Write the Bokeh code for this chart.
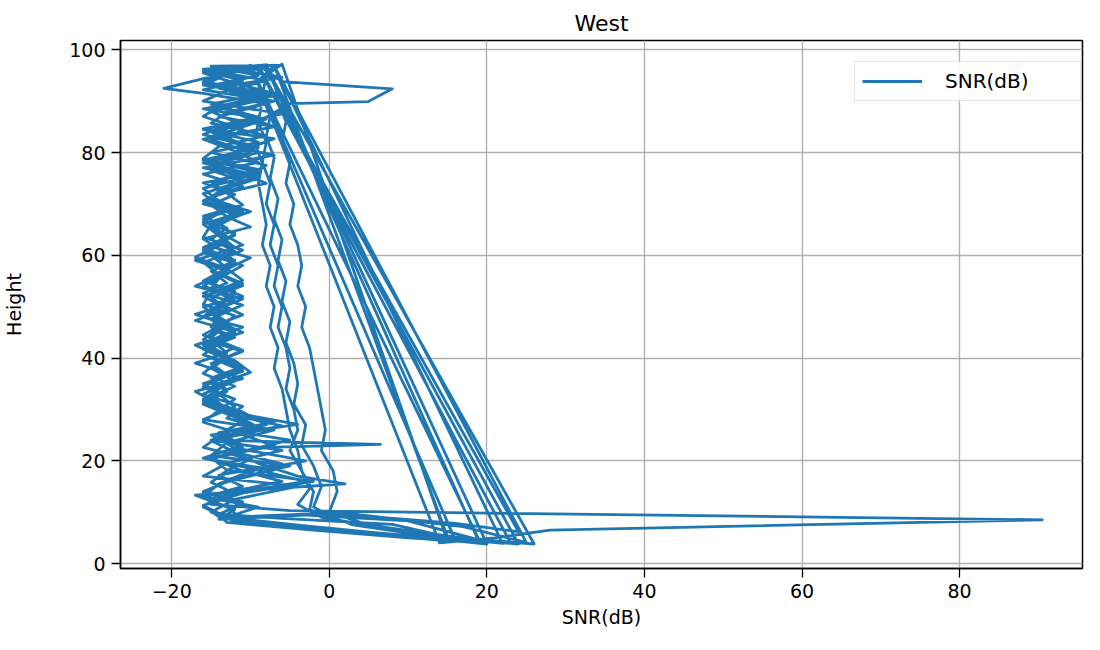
from bokeh.plotting import figure
from bokeh.models import ColumnDataSource, Range1d, FixedTicker
from bokeh.embed import file_html
from bokeh.resources import INLINE

# ---- data: SNR(dB) profiles versus height ----
h1 = [97, 96.8, 95, 93, 91, 88.5, 86.5, 84, 82, 79.5, 77, 75, 72.5, 70, 68, 65.5, 63, 61, 58.5, 56, 54, 51.5, 49, 47, 44.5, 42, 40, 37.5, 35, 33, 30.5, 28, 26, 23.5, 21, 19, 16.5, 14, 12, 9.5, 8, 6.5, 5, 4.2]
x1 = [-6, -15, -9, -15, -7, -16, -8, -13, -15, -7, -16, -9, -14, -16, -11, -15, -13, -16, -12, -14, -17, -11, -15, -13, -16, -12, -15, -11, -16, -14, -12, -16, -7, -13, -15, -5, -12, -16, -11, -14, -13, -2, 10, 19]

h2 = [96.6, 95.8, 94.4, 92.5, 91.5, 89.5, 87, 85, 82.5, 80, 78, 75.5, 73, 71, 68.5, 66, 64, 61.5, 59, 57, 54.5, 52, 50, 47.5, 45, 43, 40.5, 38, 36, 33.5, 31, 29, 26.5, 24, 22, 19.5, 17, 15, 12.5, 10, 8.5, 6.8, 5.2, 3.8]
x2 = [-8, -12, -16, -21, -16, -8, -14, -7, -15, -10, -16, -9, -13, -15, -11, -16, -14, -12, -17, -13, -15, -11, -16, -14, -12, -16, -13, -15, -11, -17, -14, -12, -9, -15, -6, -13, -16, -4, -12, -15, -12, 0, 12, 24]

h3 = [97, 93.8, 92.4, 89.9, 89.5, 86, 82, 78, 74, 70, 66, 62, 58, 54, 50, 46, 42, 38, 34, 30, 26, 22, 18, 14, 10.5, 7.5, 5.5, 3.9]
x3 = [-9, -6, 8, 4.9, -5, -9, -9.5, -8.5, -9, -8.5, -8, -8.5, -7.5, -8, -7, -7.5, -6.5, -7, -6, -5.5, -5, -4, -3.5, -2, -2.5, 3, 12, 22]

h4 = [97, 96, 94, 92, 90, 87.5, 85.5, 83, 81, 78.5, 76, 74, 71.5, 69, 67, 64.5, 62, 60, 57.5, 55, 53, 50.5, 48, 46, 43.5, 41, 39, 36.5, 34, 32, 29.5, 27, 25, 22.5, 20, 18, 15.5, 13, 11, 9, 9.8, 7.8, 6.2]
x4 = [-7, -15, -8, -13, -16, -6, -12, -15, -9, -16, -11, -8, -15, -12, -16, -14, -11, -15, -13, -16, -12, -14, -16, -11, -15, -13, -17, -12, -14, -16, -11, -8, -15, -12, -3, -10, -14, -16, -9, -13, 0, 16, 24]

h5 = [96.8, 95.5, 93.5, 91.5, 89, 87, 84.5, 82.5, 80, 77.5, 75.5, 73, 70.5, 68.5, 66, 63.5, 61.5, 59, 56.5, 54.5, 52, 49.5, 47.5, 45, 42.5, 40.5, 38, 35.5, 33.5, 31, 28.5, 26.5, 24, 23.2, 22.6, 20.5, 18, 16, 13.5, 11, 8.2, 6, 4.4]
x5 = [-10, -16, -12, -7, -14, -16, -11, -13, -9, -15, -12, -16, -14, -10, -15, -13, -16, -12, -14, -11, -16, -13, -15, -12, -17, -14, -11, -15, -13, -16, -12, -9, -14, 6.5, -8, -15, -11, -6, -14, -16, -12, 3, 15]

h6 = [97.2, 95, 91, 87, 83, 79, 75, 71, 67, 63, 59, 55, 51, 47, 43, 39, 35, 31, 27, 23, 19, 15, 11, 8.5, 6.5, 4.8, 3.8]
x6 = [-6, -8, -8.5, -7.5, -8, -7, -7.5, -6.5, -7, -6, -6.5, -5.5, -6, -5, -5.5, -4.5, -4, -4.5, -3, -3.5, -2, -1, -2, 1, 8, 18, 26]

h7 = [96.5, 95.5, 93.5, 91, 89, 86.5, 84.5, 82, 80, 77.5, 75, 73, 70.5, 68, 66, 63.5, 61, 59, 56.5, 54, 52, 49.5, 47, 45, 42.5, 40, 38, 35.5, 33, 31, 28.5, 26, 24, 21.5, 19.5, 17, 15.5, 14.5, 13.3, 11, 8.5, 6.2, 4.5]
x7 = [-8, -13, -16, -7, -14, -10, -16, -9, -15, -8, -11, -16, -14, -12, -15, -16, -11, -14, -13, -16, -12, -15, -14, -11, -16, -13, -15, -12, -16, -14, -10, -13, -5, -12, -9, -4, 2, -8, -17, -13, -11, 4, 16]

h8 = [97, 96.2, 94.5, 92.5, 90.5, 88, 86, 83.5, 81.5, 79, 76.5, 74.5, 72, 69.5, 67.5, 65, 62.5, 60.5, 58, 55.5, 53.5, 51, 48.5, 46.5, 44, 41.5, 39.5, 37, 34.5, 32.5, 30, 27.5, 25.5, 23, 20.5, 18.5, 16, 13.5, 11.5, 10.3, 8.5, 6.5, 5, 4]
x8 = [-7, -16, -11, -14, -8, -15, -12, -16, -10, -13, -15, -11, -16, -14, -12, -15, -13, -16, -11, -14, -15, -12, -17, -13, -15, -11, -14, -16, -12, -15, -13, -7, -14, -11, -16, -10, -3, -13, -15, -5, 90.5, 28, 21, 14]

h9 = [97, 94, 90, 86, 82, 78, 74, 70, 66, 62, 58, 54, 50, 46, 42, 38, 34, 30, 26, 22, 18, 14, 10, 7.5, 5.5, 4]
x9 = [-10, -7, -6.5, -5.5, -6, -5, -5.5, -4.5, -5, -4, -3.5, -4, -3, -3.5, -2.5, -2, -1.5, -1, -0.5, -1, 0.5, 1, 0, 5, 14, 23]

h10 = [96.6, 95.6, 93.8, 91.6, 89.4, 87.2, 85, 82.6, 80.3, 78.1, 75.8, 73.4, 71.2, 68.9, 66.5, 64.3, 62, 59.6, 57.4, 55.1, 52.7, 50.5, 48.2, 45.8, 43.6, 41.3, 38.9, 36.7, 34.4, 32, 29.8, 27.5, 25.1, 22.9, 20.6, 18.2, 16, 13.7, 11.3, 9.1, 7.3, 5.4, 3.8]
x10 = [-9, -14, -16, -8, -15, -11, -7, -16, -12, -9, -16, -11, -15, -13, -16, -12, -14, -17, -13, -11, -15, -16, -12, -14, -16, -11, -15, -13, -16, -12, -14, -16, -11, -7, -15, -13, -2, -11, -16, -14, -3, 10, 20]

h11 = [97.1, 96.3, 94.6, 92.7, 90.5, 88.4, 86.2, 84, 81.7, 79.5, 77.3, 75.1, 72.8, 70.6, 68.4, 66.2, 63.9, 61.7, 59.5, 57.3, 55, 52.8, 50.6, 48.4, 46.1, 43.9, 41.7, 39.5, 37.2, 35, 32.8, 30.6, 28.3, 26.1, 23.9, 21.7, 19.4, 17.2, 15, 12.8, 10.5, 8.6, 9.8, 7.2, 4.1]
x11 = [-8, -12, -6, -14, -10, -13, -9, -15, -11, -12, -14, -10, -13, -16, -11, -14, -12, -15, -10, -13, -16, -12, -14, -11, -15, -13, -16, -12, -10, -14, -16, -11, -13, -8, -15, -12, -6, -14, -11, -16, -12, -14, 2, 17, 25]

h12 = [96.9, 94, 90, 86, 82, 78, 74, 70, 66, 62, 58, 54, 50, 46, 42, 38, 34, 30, 26, 22, 18, 14.5, 11.5, 9, 7.2, 5.4, 4.2]
x12 = [-7, -9, -8.5, -9, -8, -8.5, -7.5, -8, -7, -7.5, -6.5, -7, -6, -6.5, -5.5, -5, -5.5, -4.5, -4, -5, -3.5, -2.5, -4, -1, 6, 15, 21]

h13 = [96.7, 95.9, 94, 92.2, 90, 87.8, 85.7, 83.3, 81.2, 78.8, 76.7, 74.3, 72.1, 69.8, 67.6, 65.3, 63.1, 60.8, 58.6, 56.3, 54.1, 51.8, 49.6, 47.3, 45.1, 42.8, 40.6, 38.3, 36.1, 33.8, 31.6, 29.3, 27.1, 24.8, 22.6, 20.3, 18.1, 15.8, 13.6, 11.3, 9, 9.5, 8.3, 4.6]
x13 = [-9, -16, -11, -16, -7, -13, -15, -8, -14, -16, -9, -15, -13, -11, -16, -13, -15, -12, -16, -14, -11, -15, -13, -17, -12, -14, -16, -11, -15, -13, -16, -12, -4, -14, -16, -10, -13, -15, -12, -16, -13, -4, 10, 19]

h14 = [97, 95.2, 93.1, 91.2, 88.9, 86.9, 84.6, 82.7, 80.4, 78.4, 76.1, 74.1, 71.8, 69.8, 67.5, 65.5, 63.2, 61.2, 58.9, 56.9, 54.6, 52.6, 50.3, 48.3, 46, 44, 41.7, 39.7, 37.4, 35.4, 33.1, 31.1, 28.8, 26.8, 24.5, 22.5, 20.2, 18.2, 15.9, 13.9, 11.6, 9.6, 8.8, 7.6, 5.2]
x14 = [-10, -13, -16, -8, -14, -9, -16, -7, -11, -15, -9, -16, -12, -15, -13, -10, -16, -14, -12, -15, -13, -16, -11, -14, -15, -12, -16, -13, -11, -15, -14, -16, -12, -6, -14, -11, -15, -7, -13, -16, -11, -14, -6, 8, 15]

x_ticks = [-20, 0, 20, 40, 60, 80]
y_ticks = [0, 20, 40, 60, 80, 100]

snr = x1 + x2 + x3 + x4 + x13 + x5 + x6 + x7 + x14 + x8 + x9 + x10 + x11 + x12
height = h1 + h2 + h3 + h4 + h13 + h5 + h6 + h7 + h14 + h8 + h9 + h10 + h11 + h12
n = min(len(snr), len(height))
source = ColumnDataSource(data=dict(snr=snr[:n], height=height[:n]))

FONT = "DejaVu Sans"

p = figure(width=1084, height=634, output_backend="svg", toolbar_location=None,
           x_range=Range1d(-26.5, 95.6), y_range=Range1d(-0.97, 101.8),
           min_border_left=116, min_border_right=2, min_border_top=40, min_border_bottom=66,
           title="West")

p.line("snr", "height", source=source, line_color="#1f77b4", line_width=2.8,
       line_join="round", legend_label="SNR(dB)")

p.title.align = "center"
p.title.text_font = FONT
p.title.text_font_size = "22px"
p.title.text_font_style = "normal"
p.title.text_color = "#000000"

p.outline_line_color = "#000000"
p.outline_line_width = 1.5
p.background_fill_color = "white"
p.border_fill_color = "white"

p.xgrid.grid_line_color = "#b0b0b0"
p.ygrid.grid_line_color = "#b0b0b0"
p.xgrid.grid_line_width = 1.4
p.ygrid.grid_line_width = 1.4

p.xaxis.ticker = FixedTicker(ticks=x_ticks)
p.yaxis.ticker = FixedTicker(ticks=y_ticks)
p.xaxis.major_label_overrides = {t: (str(t).replace("-", "\u2212")) for t in x_ticks}

for ax in (p.xaxis[0], p.yaxis[0]):
    ax.axis_line_color = "#000000"
    ax.axis_line_width = 1.5
    ax.major_tick_line_color = "#000000"
    ax.major_tick_line_width = 1.3
    ax.major_tick_out = 9
    ax.major_tick_in = 0
    ax.minor_tick_line_color = None
    ax.major_label_text_font = FONT
    ax.major_label_text_font_size = "19px"
    ax.major_label_text_color = "#000000"
    ax.major_label_standoff = 6
    ax.axis_label_text_font = FONT
    ax.axis_label_text_font_size = "19px"
    ax.axis_label_text_font_style = "normal"
    ax.axis_label_text_color = "#000000"

p.xaxis.axis_label = "SNR(dB)"
p.yaxis.axis_label = "Height"
p.xaxis.axis_label_standoff = 5
p.yaxis.axis_label_standoff = 41

lg = p.legend[0]
lg.location = (734, 467)
lg.padding = 7
lg.glyph_width = 60
lg.glyph_height = 20
lg.label_standoff = 23
lg.label_width = 128
lg.label_text_font = FONT
lg.label_text_font_size = "20px"
lg.label_text_color = "#000000"
lg.border_line_color = "#cccccc"
lg.border_line_width = 1.5
lg.background_fill_alpha = 0.9

open("out.html", "w").write(file_html(p, INLINE))
